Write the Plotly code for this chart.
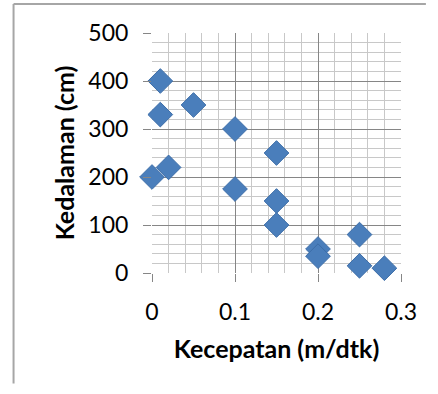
import plotly.graph_objects as go

# Flow velocity vs. depth measurements
kecepatan = [0.01, 0.01, 0.05, 0.10, 0.00, 0.02, 0.10, 0.15, 0.15, 0.15, 0.20, 0.20, 0.25, 0.25, 0.28]
kedalaman = [400, 330, 350, 300, 200, 220, 175, 250, 150, 100, 50, 35, 80, 15, 10]

x_ticks = [0, 0.1, 0.2, 0.3]
y_ticks = [0, 100, 200, 300, 400, 500]

font_family = "Lato, 'Open Sans', sans-serif"

fig = go.Figure()
fig.add_trace(go.Scatter(
    x=kecepatan, y=kedalaman, mode="markers",
    marker=dict(symbol="diamond", size=19, color="#4A7EBB",
                line=dict(color="#3C6DA8", width=1)),
    cliponaxis=False, showlegend=False,
))

axis_common = dict(
    showline=False, zeroline=False, automargin=False,
    ticks="outside", ticklen=8, tickwidth=1, tickcolor="#868686",
    gridcolor="#868686", gridwidth=1,
    tickfont=dict(family=font_family, size=23, color="#000000"),
    minor=dict(showgrid=True, gridcolor="#C8C8C8", gridwidth=1),
)

fig.update_xaxes(
    range=[0, 0.3], tickvals=x_ticks, ticktext=["0", "0.1", "0.2", "0.3"],
    minor_dtick=0.02, ticklabelstandoff=10,
    title=dict(text="<b>Kecepatan (m/dtk)</b>", standoff=16,
               font=dict(family=font_family, size=25, color="#000000")),
    **axis_common,
)
fig.update_yaxes(
    range=[0, 500], tickvals=y_ticks,
    minor_dtick=20, ticklabelstandoff=10,
    title=dict(text="<b>Kedalaman (cm)</b>", standoff=6,
               font=dict(family=font_family, size=25, color="#000000")),
    **axis_common,
)

# Chart area border (left and top edges), kept well inside the page
border = dict(color="#A6A6A6", width=2)
fig.add_shape(type="line", xref="paper", yref="paper",
              x0=-0.556, x1=-0.556, y0=-0.46, y1=1.121, line=border)
fig.add_shape(type="line", xref="paper", yref="paper",
              x0=-0.556, x1=1.10, y0=1.121, y1=1.121, line=border)

fig.update_layout(
    width=438, height=394,
    margin=dict(l=152, r=37, t=33, b=121),
    plot_bgcolor="white", paper_bgcolor="white",
)

fig.write_html("out.html")
